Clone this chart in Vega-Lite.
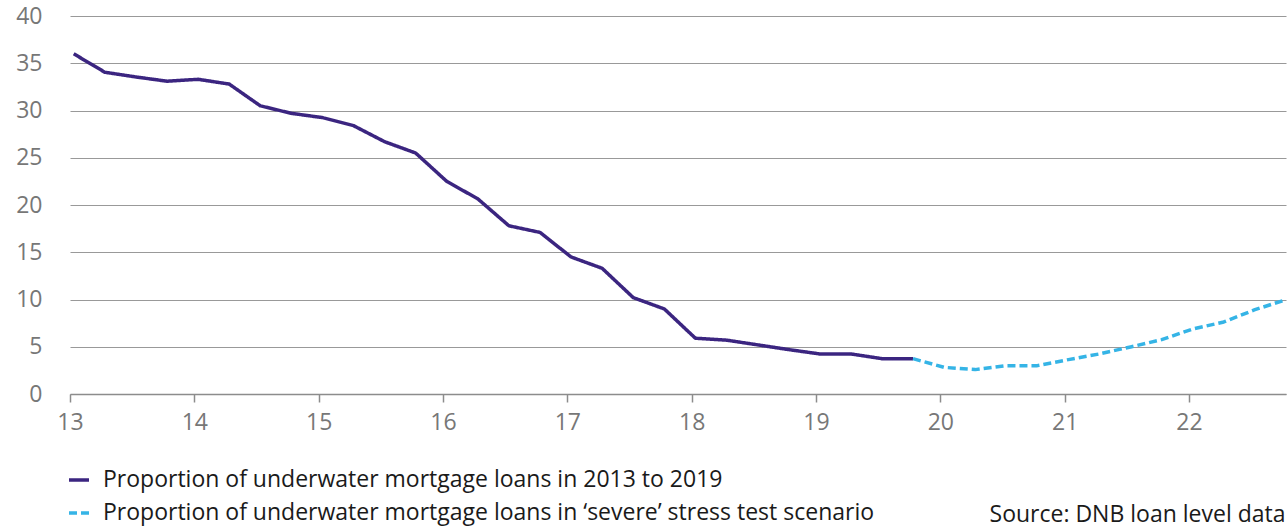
{
  "$schema": "https://vega.github.io/schema/vega-lite/v6.json",
  "width": 1216,
  "height": 378,
  "autosize": {"type": "none"},
  "padding": {"left": 70, "top": 16, "right": 1, "bottom": 134},
  "background": "white",
  "config": {
    "view": {"stroke": null},
    "font": "Open Sans"
  },
  "data": {
    "values": [
      {"x": 13.03, "v": 36.0, "s": "a"},
      {"x": 13.28, "v": 34.05, "s": "a"},
      {"x": 13.53, "v": 33.55, "s": "a"},
      {"x": 13.78, "v": 33.1, "s": "a"},
      {"x": 14.03, "v": 33.3, "s": "a"},
      {"x": 14.28, "v": 32.8, "s": "a"},
      {"x": 14.53, "v": 30.5, "s": "a"},
      {"x": 14.78, "v": 29.7, "s": "a"},
      {"x": 15.03, "v": 29.25, "s": "a"},
      {"x": 15.28, "v": 28.4, "s": "a"},
      {"x": 15.53, "v": 26.7, "s": "a"},
      {"x": 15.78, "v": 25.5, "s": "a"},
      {"x": 16.03, "v": 22.5, "s": "a"},
      {"x": 16.28, "v": 20.65, "s": "a"},
      {"x": 16.53, "v": 17.8, "s": "a"},
      {"x": 16.78, "v": 17.1, "s": "a"},
      {"x": 17.03, "v": 14.5, "s": "a"},
      {"x": 17.28, "v": 13.3, "s": "a"},
      {"x": 17.53, "v": 10.2, "s": "a"},
      {"x": 17.78, "v": 9.0, "s": "a"},
      {"x": 18.03, "v": 5.9, "s": "a"},
      {"x": 18.28, "v": 5.7, "s": "a"},
      {"x": 18.53, "v": 5.2, "s": "a"},
      {"x": 18.78, "v": 4.7, "s": "a"},
      {"x": 19.03, "v": 4.24, "s": "a"},
      {"x": 19.28, "v": 4.24, "s": "a"},
      {"x": 19.53, "v": 3.74, "s": "a"},
      {"x": 19.78, "v": 3.74, "s": "a"},
      {"x": 19.78, "v": 3.74, "s": "b"},
      {"x": 20.03, "v": 2.82, "s": "b"},
      {"x": 20.28, "v": 2.58, "s": "b"},
      {"x": 20.53, "v": 3.0, "s": "b"},
      {"x": 20.78, "v": 3.0, "s": "b"},
      {"x": 21.03, "v": 3.64, "s": "b"},
      {"x": 21.28, "v": 4.24, "s": "b"},
      {"x": 21.53, "v": 4.98, "s": "b"},
      {"x": 21.78, "v": 5.75, "s": "b"},
      {"x": 22.03, "v": 6.88, "s": "b"},
      {"x": 22.28, "v": 7.62, "s": "b"},
      {"x": 22.53, "v": 8.92, "s": "b"},
      {"x": 22.78, "v": 9.98, "s": "b"}
    ]
  },
  "mark": {"type": "line", "strokeWidth": 3.5, "clip": false, "strokeJoin": "round"},
  "encoding": {
    "x": {
      "field": "x",
      "type": "quantitative",
      "scale": {"domain": [13, 22.78], "nice": false, "zero": false},
      "axis": {
        "values": [13, 14, 15, 16, 17, 18, 19, 20, 21, 22],
        "format": "d",
        "grid": false,
        "labelFlush": false,
        "domainColor": "#8c8c8c",
        "domainWidth": 1.5,
        "tickColor": "#8c8c8c",
        "tickWidth": 1.5,
        "tickSize": 8,
        "labelPadding": 9,
        "labelFontSize": 23,
        "labelColor": "#777777",
        "labelFont": "Open Sans",
        "title": "Source: DNB loan level data",
        "titleFont": "Open Sans",
        "titleFontSize": 23,
        "titleFontWeight": "normal",
        "titleColor": "#1a1a1a",
        "titleAnchor": "end",
        "titleAlign": "right",
        "titleBaseline": "alphabetic",
        "titleX": 1215,
        "titleY": 127
      }
    },
    "y": {
      "field": "v",
      "type": "quantitative",
      "scale": {"domain": [0, 40], "nice": false},
      "axis": {
        "values": [0, 5, 10, 15, 20, 25, 30, 35, 40],
        "domain": false,
        "ticks": false,
        "tickSize": 0,
        "labelPadding": 28,
        "labelFontSize": 23,
        "labelColor": "#777777",
        "labelFont": "Open Sans",
        "gridColor": "#999999",
        "gridWidth": 1,
        "title": null
      }
    },
    "color": {
      "field": "s",
      "type": "nominal",
      "scale": {"domain": ["a", "b"], "range": ["#3b2580", "#35b4e6"]},
      "legend": {
        "title": null,
        "orient": "none",
        "legendX": -3,
        "legendY": 452,
        "padding": 0,
        "symbolType": "stroke",
        "symbolSize": 400,
        "symbolStrokeWidth": 3.5,
        "labelFont": "Open Sans",
        "labelFontSize": 23,
        "labelColor": "#1a1a1a",
        "labelOffset": 12,
        "labelLimit": 0,
        "rowPadding": 9,
        "labelExpr": "datum.value == 'a' ? 'Proportion of underwater mortgage loans in 2013 to 2019' : 'Proportion of underwater mortgage loans in \u2018severe\u2019 stress test scenario'"
      }
    },
    "strokeDash": {
      "field": "s",
      "type": "nominal",
      "scale": {"domain": ["a", "b"], "range": [[1, 0], [8, 4]]},
      "legend": {
        "title": null,
        "orient": "none",
        "legendX": -3,
        "legendY": 452,
        "padding": 0,
        "symbolType": "stroke",
        "symbolSize": 400,
        "symbolStrokeWidth": 3.5,
        "labelFont": "Open Sans",
        "labelFontSize": 23,
        "labelColor": "#1a1a1a",
        "labelOffset": 12,
        "labelLimit": 0,
        "rowPadding": 9,
        "labelExpr": "datum.value == 'a' ? 'Proportion of underwater mortgage loans in 2013 to 2019' : 'Proportion of underwater mortgage loans in \u2018severe\u2019 stress test scenario'"
      }
    }
  }
}
